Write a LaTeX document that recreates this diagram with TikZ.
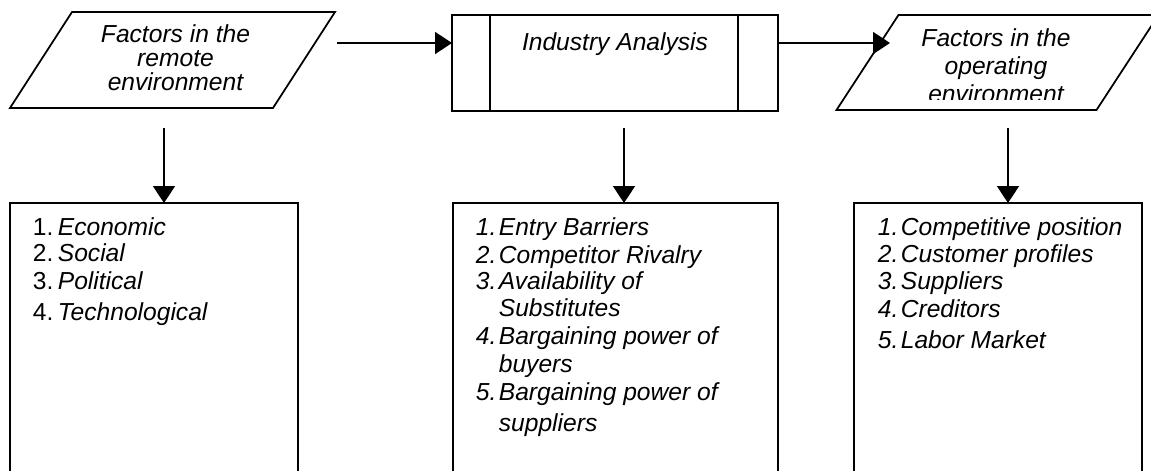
\documentclass[tikz,border=0pt]{standalone}
\usepackage{fontspec}
\setmainfont{Liberation Sans}
\usetikzlibrary{arrows.meta,calc}
\newcommand{\numbox}[2][0.46cm]{\makebox[#1][l]{#2}}
\begin{document}
\begin{tikzpicture}[>={Triangle[length=3.4mm,width=4.4mm]}, line width=1pt,
	frame/.style={minimum height=1.92cm, outer sep=0pt, inner sep=0pt},
	box/.style={draw, anchor=north, minimum width=5.76cm, minimum height=6cm, outer sep=0pt},
	txt/.style={font=\fontsize{14}{13.6}\selectfont\itshape, inner sep=0pt, align=center},
	itm/.style={font=\fontsize{14}{14}\selectfont\itshape, inner sep=0pt, anchor=base west}]
		\def\sl{0.62} % nửa độ nghiêng
		\clip (0,0) rectangle (23.02,9.4);
		% hàng trên
		\node[frame, minimum width=5.26cm] (remote) at (3.45,8.2) {};
		\draw ($(remote.north west)+(\sl,0)$)--($(remote.north east)+(\sl,0)$)--($(remote.south east)-(\sl,0)$)--($(remote.south west)-(\sl,0)$)--cycle;
		\node[txt] (remotetxt) at (3.51,8.25) {Factors in the\\remote\\environment};
		\node[frame, draw, minimum width=6.52cm] (industry) at (12.30,8.14) {};
		\draw ($(industry.north west)+(0.76,0)$)--($(industry.south west)+(0.76,0)$);
		\draw ($(industry.north east)-(0.80,0)$)--($(industry.south east)-(0.80,0)$);
		\node[txt, anchor=base] (industrytxt) at (12.30,8.40) {Industry Analysis};
		\node[frame, minimum width=5.2cm, minimum height=1.9cm] (operating) at (19.95,8.15) {};
		\draw ($(operating.north west)+(\sl,0)$)--($(operating.north east)+(\sl,0)$)--($(operating.south east)-(\sl,0)$)--($(operating.south west)-(\sl,0)$)--cycle;
		\begin{scope}
		\clip (15,7.42) rectangle (23.02,9.4);
		\node[txt, font=\fontsize{14}{15.9}\selectfont\itshape] (operatingtxt) at (19.92,8.08) {Factors in the\\operating\\environment};
		\end{scope}
		\coordinate (a1) at (6.74,8.54);
		\coordinate (a2) at (17.80,8.54);
		\draw[->] (a1)--(a1 -| industry.west);
		\draw[->] (a1 -| industry.east)--(a2);
		% hàng dưới
		\node[box] (remotebox) at (3.08,5.34) {};
		\node[box, minimum width=6.5cm] (industrybox) at (12.31,5.34) {};
		\node[box] (operatingbox) at (19.96,5.34) {};
		\coordinate (d1) at (3.28,6.84);
		\coordinate (d2) at (12.48,6.84);
		\coordinate (d3) at (20.16,6.84);
		\draw[->] (d1)--(d1 |- remotebox.north);
		\draw[->] (d2)--(d2 |- industrybox.north);
		\draw[->] (d3)--(d3 |- operatingbox.north);
		% danh sách
		\node[itm] (r1) at (0.64,4.70) {\numbox[0.5cm]{\upshape 1.}Economic};
		\node[itm] (r2) at (0.64,4.18) {\numbox[0.5cm]{\upshape 2.}Social};
		\node[itm] (r3) at (0.64,3.62) {\numbox[0.5cm]{\upshape 3.}Political};
		\node[itm] (r4) at (0.64,3.00) {\numbox[0.5cm]{\upshape 4.}Technological};
		\node[itm] (i1) at (9.50,4.70) {\numbox{1.}Entry Barriers};
		\node[itm] (i2) at (9.50,4.14) {\numbox{2.}Competitor Rivalry};
		\node[itm] (i3) at (9.50,3.62) {\numbox{3.}Availability of};
		\node[itm] (i3b) at (9.96,3.08) {Substitutes};
		\node[itm] (i4) at (9.50,2.52) {\numbox{4.}Bargaining power of};
		\node[itm] (i4b) at (9.96,1.96) {buyers};
		\node[itm] (i5) at (9.50,1.40) {\numbox{5.}Bargaining power of};
		\node[itm] (i5b) at (9.96,0.78) {suppliers};
		\node[itm] (o1) at (17.54,4.70) {\numbox{1.}Competitive position};
		\node[itm] (o2) at (17.54,4.16) {\numbox{2.}Customer profiles};
		\node[itm] (o3) at (17.54,3.62) {\numbox{3.}Suppliers};
		\node[itm] (o4) at (17.54,3.06) {\numbox{4.}Creditors};
		\node[itm] (o5) at (17.54,2.44) {\numbox{5.}Labor Market};
\end{tikzpicture}
\end{document}
